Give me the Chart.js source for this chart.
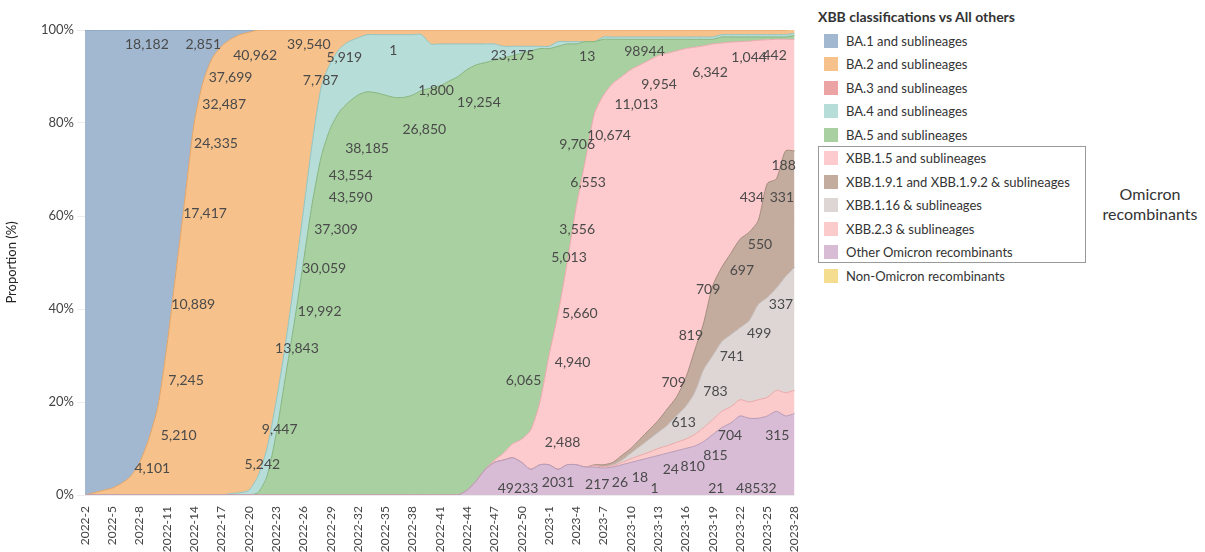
<!DOCTYPE html>
<html><head><meta charset="utf-8">
<script src="https://cdn.jsdelivr.net/npm/chart.js@4"></script>
<style>
body{margin:0;background:#fff;font-family:Lato,"Open Sans",sans-serif;overflow:hidden;}
#wrap{position:absolute;left:0;top:0;width:812px;height:552px;}
#legend{position:absolute;left:818px;top:8px;width:380px;font-size:13px;color:#333;}
#legend .t{font-weight:bold;font-size:14px;margin-bottom:4px;}
.it{height:23.5px;display:flex;align-items:center;}
.sw{width:14px;height:14px;margin:0 8px 0 6px;}
#box{position:absolute;left:818px;top:146px;width:266px;height:115px;border:1px solid #999;}
#omi{position:absolute;left:1088px;top:184px;width:124px;text-align:center;font-size:16px;color:#333;line-height:20px;}
</style></head><body>
<div id="wrap"><canvas id="c"></canvas></div>
<div id="box"></div>
<div id="legend"></div>
<div id="omi">Omicron<br>recombinants</div>
<script>
const weeks=[];for(let w=2;w<=52;w++)weeks.push('2022-'+w);for(let w=1;w<=28;w++)weeks.push('2023-'+w);
function pad(n,a){return new Array(n).fill(0).concat(a);}
const BA1=pad(0,[100,99.5,99,98.5,97.5,96,93,88,81,68,52,36,20,11,6,3.5,2,1,0.5]).concat(new Array(60).fill(0));
const BA2=[0,0.5,1,1.5,2.5,4,7,12,19,32,48,64,80,89,94,96.5,97.7,98.5,98.5,
96,90,80,68,54,39,24,12,7,4,2.5,1.7,1,1,1,1,1,1,1,3,3,3,3,3,3,3,3,3.5,3.5,3.5,3.5,3.5,3.5,2.5,2.5,2.5,2.5,2.5,
1.5,1.5,1.5,1.5,1.5,1.5,1.5,1.5,1.5,1.5,1.5,1.5,1.5,1,1,1,1,1,1,1,1,1];
const BA4=pad(16,[0.3,0.5,1,3.5,6,7,7,9,11,13,15,14,13.5,13,12.3,12.3,12.5,13,13.5,13.5,13,12,
9.5,9,8,7,5.5,4.5,4,3.5,2.5,2,1.5,1,0.5,0.5,1,0.5,0.5,0,0,
0.5,0.5,0.5,0.5,0.5,0.5,0.5,0.5,0.5,0.5,0.5,0.5,0.5,0.5,0.5,0.5,0.5,0.5,0.5,0.5,0.5,0.5]);
const BA5=pad(19,[0.5,4,13,25,37,50,63,73,79,82.5,84.5,86,86.7,86.5,86,85.5,85.5,86,87,87.5,
88,89,90,90.5,89.5,87.5,86,85,83.5,83,81.5,76,66,57.5,47,35,25.5,15.5,12,9.5,
8,6.5,5.5,4.5,3.5,3,2.5,2,1.7,1.4,1,1.3,1.1,1,0.9,0.7,0.6,0.5,0.5,0.8]);
const XBB15=pad(45,[0.5,1.5,3,5,8.5,13.5,23.5,33.5,43.5,55.5,66,75.5,79.5,81.5,81.5,81.5,80.5,79.5,78.5,76.5,
74.5,71,65.3,59.6,52,48.2,45.4,42.5,41.1,38.8,30.9,30,24,24]);
const XBB19=pad(56,[0.2,0.4,0.5,1,1,1.5,2,2.5,3.5,4,6,9,10,15,16,17.5,19,19,18,24.5,23.5,27,25]);
const XBB116=pad(58,[0.2,0.5,1.2,2,2.8,3.5,4.4,5.7,7,9,12.5,13.8,15,15.5,15.5,17.5,20.5,21.5,22,25,26.5]);
const XBB23=pad(56,[0.3,0.3,0.3,0.5,0.8,1,1.2,1.5,1.6,1.8,2,2.5,3,3.2,3.5,3.5,3.5,3.5,4,4,4.5,5,5]);
const OTHER=pad(42,[1,3,5.5,7,7.5,8,7,5.5,6.5,6.5,5.5,6.5,6.5,6,6,5.8,6,6.5,7,7.5,8,8.5,9,9.5,10,10.5,11.5,13,14.5,15.5,17,16.5,16.5,17,18,17,17.5]);
const yTicks=[0,20,40,60,80,100];
// [week index, percent, text]
const counts=[[6.8,96.8,'18,182'],[13,96.8,'2,851'],[18.7,94.6,'40,962'],[24.6,96.8,'39,540'],[16,89.7,'37,699'],[15.3,84,'32,487'],[14.4,75.7,'24,335'],[13.2,60.6,'17,417'],[11.9,40.9,'10,889'],[11.1,24.7,'7,245'],[10.3,12.9,'5,210'],[7.4,5.8,'4,101'],
[28.5,94,'5,919'],[33.9,95.7,'1'],[25.9,89.2,'7,787'],[38.6,87.1,'1,800'],[47,94.6,'23,175'],
[31,74.6,'38,185'],[29.2,68.8,'43,554'],[29.2,64,'43,590'],[27.6,57,'37,309'],[26.3,48.8,'30,059'],[25.8,39.4,'19,992'],[23.3,31.6,'13,843'],[21.4,14,'9,447'],[19.5,6.5,'5,242'],[37.3,78.5,'26,850'],[43.3,84.5,'19,254'],[55.2,94.2,'13'],[61.5,95.3,'98944'],[54.1,75.3,'9,706'],[48.2,24.7,'6,065'],
[63.1,88.2,'9,954'],[68.7,90.8,'6,342'],[73,94,'1,044'],[75.8,94.6,'442'],[60.6,83.9,'11,013'],[57.6,77.4,'10,674'],[55.3,67.3,'6,553'],[54.1,57,'3,556'],[53.2,51,'5,013'],[54.4,39.1,'5,660'],[53.6,28.6,'4,940'],[52.5,11.4,'2,488'],
[76.8,70.8,'188'],[73.3,63.9,'434'],[76.6,64,'331'],[74.2,53.8,'550'],[72.2,48.2,'697'],[68.5,44.1,'709'],[66.6,34.4,'819'],[64.7,24.3,'709'],
[76.5,41,'337'],[74.1,34.8,'499'],[71.1,29.7,'741'],[69.3,22.2,'783'],[65.8,15.5,'613'],
[70.9,12.7,'704'],[76.1,12.9,'315'],[69.3,8.4,'815'],[64.4,5.4,'24'],[66.8,6.2,'810'],[58.8,2.6,'26'],[61,3.7,'18'],[62.6,1.5,'1'],[56.3,2.2,'217'],[52,2.6,'2031'],[47.6,1.5,'49233'],[69.4,1.5,'21'],[73.8,1.5,'48532']];

const series=[
 ['Other Omicron recombinants',OTHER,'#d8bcd6','#b89ab6'],
 ['XBB.2.3 & sublineages',XBB23,'#fbcaca','#eaa8a8'],
 ['XBB.1.16 & sublineages',XBB116,'#ddd6d4','#c0b7b4'],
 ['XBB.1.9.1 and XBB.1.9.2 & sublineages',XBB19,'#c3ab9e','#a68b7d'],
 ['XBB.1.5 and sublineages',XBB15,'#fdcacd','#e8a9ad'],
 ['BA.5 and sublineages',BA5,'#a8d0a0','#86b57e'],
 ['BA.4 and sublineages',BA4,'#b7ddd9','#93c3be'],
 ['BA.2 and sublineages',BA2,'#f6c18b','#e0a468'],
 ['BA.1 and sublineages',BA1,'#a2b8d1','#7f9bbb']];
const legendItems=[['BA.1 and sublineages','#a2b8d1'],['BA.2 and sublineages','#f6c18b'],['BA.3 and sublineages','#eba3a4'],['BA.4 and sublineages','#b7ddd9'],['BA.5 and sublineages','#a8d0a0'],['XBB.1.5 and sublineages','#fdcacd'],['XBB.1.9.1 and XBB.1.9.2 & sublineages','#c3ab9e'],['XBB.1.16 & sublineages','#ddd6d4'],['XBB.2.3 & sublineages','#fbcaca'],['Other Omicron recombinants','#d8bcd6'],['Non-Omicron recombinants','#f4dd8e']];
let lh='<div class="t">XBB classifications vs All others</div>';
legendItems.forEach(l=>lh+='<div class="it"><div class="sw" style="background:'+l[1]+'"></div>'+l[0]+'</div>');
document.getElementById('legend').innerHTML=lh;

const labelPlugin={id:'lbl',afterDatasetsDraw(ch){const c=ch.ctx,x=ch.scales.x,y=ch.scales.y;c.save();c.font='14px Lato';c.fillStyle='#4a4a4a';c.textAlign='center';c.textBaseline='middle';
 counts.forEach(l=>{const i0=Math.floor(l[0]),f=l[0]-i0;const px=x.getPixelForValue(i0)*(1-f)+x.getPixelForValue(Math.min(i0+1,weeks.length-1))*f;c.fillText(l[2],px,y.getPixelForValue(l[1]));});c.restore();}};

new Chart(document.getElementById('c'),{type:'line',
 data:{labels:weeks,datasets:series.map((s,k)=>({label:s[0],data:s[1],backgroundColor:s[2],borderColor:s[3],borderWidth:1,pointRadius:0,tension:0.25,fill:k===0?'origin':'-1'}))},
 options:{responsive:true,maintainAspectRatio:false,animation:false,
  layout:{padding:{left:0,right:6,top:30,bottom:0}},
  plugins:{legend:{display:false},tooltip:{enabled:false}},
  scales:{
   x:{offset:false,grid:{display:false},border:{display:false},afterFit(s){s.height=57;},
      ticks:{autoSkip:false,minRotation:90,maxRotation:90,color:'#444',font:{size:12,family:'Lato'},callback(v,i){return i%3===0?weeks[i]:'';}}},
   y:{stacked:true,min:0,max:100,afterFit(s){s.width=85;},grid:{color:'#ececec'},border:{display:false},
      afterBuildTicks(s){s.ticks=yTicks.map(v=>({value:v}));},
      title:{display:true,text:'Proportion (%)',color:'#222',font:{size:13,family:'Lato'}},
      ticks:{color:'#444',font:{size:13,family:'Lato'},callback:v=>v+'%'}}}},
 plugins:[labelPlugin]});
</script></body></html>
